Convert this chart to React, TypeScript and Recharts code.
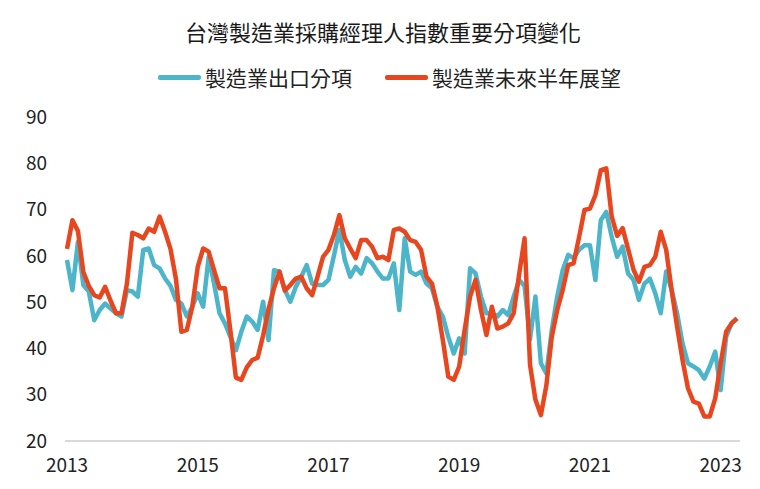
import { LineChart, Line, XAxis, YAxis } from "recharts";

const FONT = '"Noto Sans CJK TC", "Noto Sans", sans-serif';
const BLUE = "#4cb5c9";
const RED = "#e8461e";

const title = "台灣製造業採購經理人指數重要分項變化";
const exportName = "製造業出口分項";
const outlookName = "製造業未來半年展望";

// monthly, 2013-01 .. 2023-04
const startYear = 2013;
const monthCount = 124;
const months: string[] = [];
for (let i = 0; i < monthCount; i++) {
  const y = startYear + Math.floor(i / 12);
  const m = (i % 12) + 1;
  months.push(`${y}-${m < 10 ? "0" + m : m}`);
}

const xTicks = ["2013-01", "2015-01", "2017-01", "2019-01", "2021-01", "2023-01"];
const yTicks = [20, 30, 40, 50, 60, 70, 80, 90];

// 製造業出口分項
const exportOrders = [
  59.1, 52.6, 63, 53.7, 52.3, 46.1, 48.3, 49.7, 48.6, 47.6, 46.9, 52.6,
  52.3, 51.2, 61.3, 61.6, 58, 57.3, 55.1, 53.5, 50.5, 49.7, 46.9, 49,
  51.9, 49, 59.8, 54, 47.6, 45.4, 42.5, 39.6, 43.6, 46.9, 45.8, 44,
  50.1, 41.8, 56.9, 56.6, 52.6, 50.1, 53.3, 55.5, 58, 54, 53.7, 53.7,
  54.8, 60, 65.6, 59.1, 55.5, 57.6, 56.2, 59.5, 58.4, 56.6, 55.1, 55.1,
  58.4, 48.3, 63.8, 56.6, 55.9, 56.6, 54, 53, 49, 46.9, 42.5, 38.9,
  42.2, 38.9, 57.3, 56.2, 51.2, 47.6, 47.6, 46.9, 48.3, 47.2, 51.2, 54.8,
  53.5, 42, 51.2, 36.8, 34.6, 44, 51.2, 56.9, 60.2, 59.5, 61.3, 62.3,
  62.3, 54.8, 67.7, 69.5, 64.1, 59.8, 62, 56.2, 54.8, 50.5, 54, 55.1,
  51.9, 47.6, 56.6, 52.6, 47.6, 41.1, 36.8, 36.1, 35.3, 33.5, 36.1, 39.3,
  31, 42.5, 45.4, 46.5,
];

// 製造業未來半年展望
const outlook = [
  61.5, 67.7, 65.4, 56.5, 53.5, 51.5, 51, 53.3, 50.3, 47.6, 47.6, 54,
  65, 64.5, 63.8, 65.9, 65.2, 68.5, 65.2, 61.5, 55, 43.6, 44, 49,
  57.6, 61.6, 60.9, 56.9, 53, 53, 43.8, 33.7, 33.2, 35.9, 37.5, 38,
  42.8, 48.5, 53, 56.6, 52.5, 53.7, 55.1, 55.5, 53, 51.5, 55.5, 59.8,
  61.3, 64.5, 68.8, 63.8, 61.6, 59.5, 63.4, 63.4, 62, 59.5, 59.8, 59.1,
  65.6, 65.9, 65.2, 63.4, 63, 61.3, 55.5, 54, 49, 41.8, 33.9, 33.2,
  36.1, 44, 51.2, 54.8, 48.3, 42.9, 49, 44.3, 44.7, 45.4, 47.6, 56,
  63.8, 36.5, 28.9, 25.6, 32, 42.5, 48.3, 52.6, 58, 58.4, 64, 69.9,
  70.2, 73.1, 78.5, 78.9, 68.5, 64.3, 66, 61.5, 57, 54.4, 57.6, 58,
  59.8, 65.2, 61.3, 52.6, 44.7, 37.5, 31.4, 28.5, 28.1, 25.3, 25.3, 29.2,
  36.8, 43.6, 45.4, 46.5,
];

const data = months.map((m, i) => ({
  month: m,
  exportOrders: exportOrders[i],
  outlook: outlook[i],
}));

function LegendItem({ color, label, left, lineWidth }: { color: string; label: string; left: number; lineWidth: number }) {
  return (
    <div
      style={{
        position: "absolute",
        left,
        top: 62,
        display: "flex",
        alignItems: "center",
        fontSize: 21,
        color: "#222",
        whiteSpace: "nowrap",
      }}
    >
      <span
        style={{
          display: "inline-block",
          width: lineWidth,
          height: 5,
          borderRadius: 2,
          background: color,
          marginRight: 4,
        }}
      />
      {label}
    </div>
  );
}

export default function App() {
  return (
    <div style={{ position: "relative", width: 760, height: 489, background: "#fff", fontFamily: FONT }}>
      <style>{`body{margin:0}`}</style>
      <div
        style={{
          position: "absolute",
          left: 0,
          width: 766,
          top: 15,
          textAlign: "center",
          fontSize: 22,
          color: "#1a1a1a",
        }}
      >
        {title}
      </div>
      <LegendItem color={BLUE} label={exportName} left={158} lineWidth={43} />
      <LegendItem color={RED} label={outlookName} left={385} lineWidth={43} />
      <LineChart
        width={760}
        height={489}
        data={data}
        margin={{ top: 117, right: 20, bottom: 0, left: 15 }}
        style={{ position: "absolute", left: 0, top: 0 }}
      >
        <XAxis
          dataKey="month"
          ticks={xTicks}
          interval={0}
          tickFormatter={(v: string) => v.slice(0, 4)}
          tickLine={false}
          tickMargin={12}
          height={48}
          padding={{ left: 2, right: 3 }}
          axisLine={{ stroke: "#d9d9d9", strokeWidth: 2 }}
          tick={{ fontSize: 19, fill: "#222", fontFamily: FONT }}
        />
        <YAxis
          domain={[20, 90]}
          ticks={yTicks}
          interval={0}
          width={50}
          axisLine={false}
          tickLine={false}
          tickMargin={12}
          tick={{ fontSize: 19, fill: "#222", fontFamily: FONT }}
        />
        <Line
          type="linear"
          dataKey="exportOrders"
          stroke={BLUE}
          strokeWidth={4.5}
          dot={false}
          strokeLinejoin="round"
          isAnimationActive={false}
        />
        <Line
          type="linear"
          dataKey="outlook"
          stroke={RED}
          strokeWidth={4.5}
          dot={false}
          strokeLinejoin="round"
          isAnimationActive={false}
        />
      </LineChart>
    </div>
  );
}
